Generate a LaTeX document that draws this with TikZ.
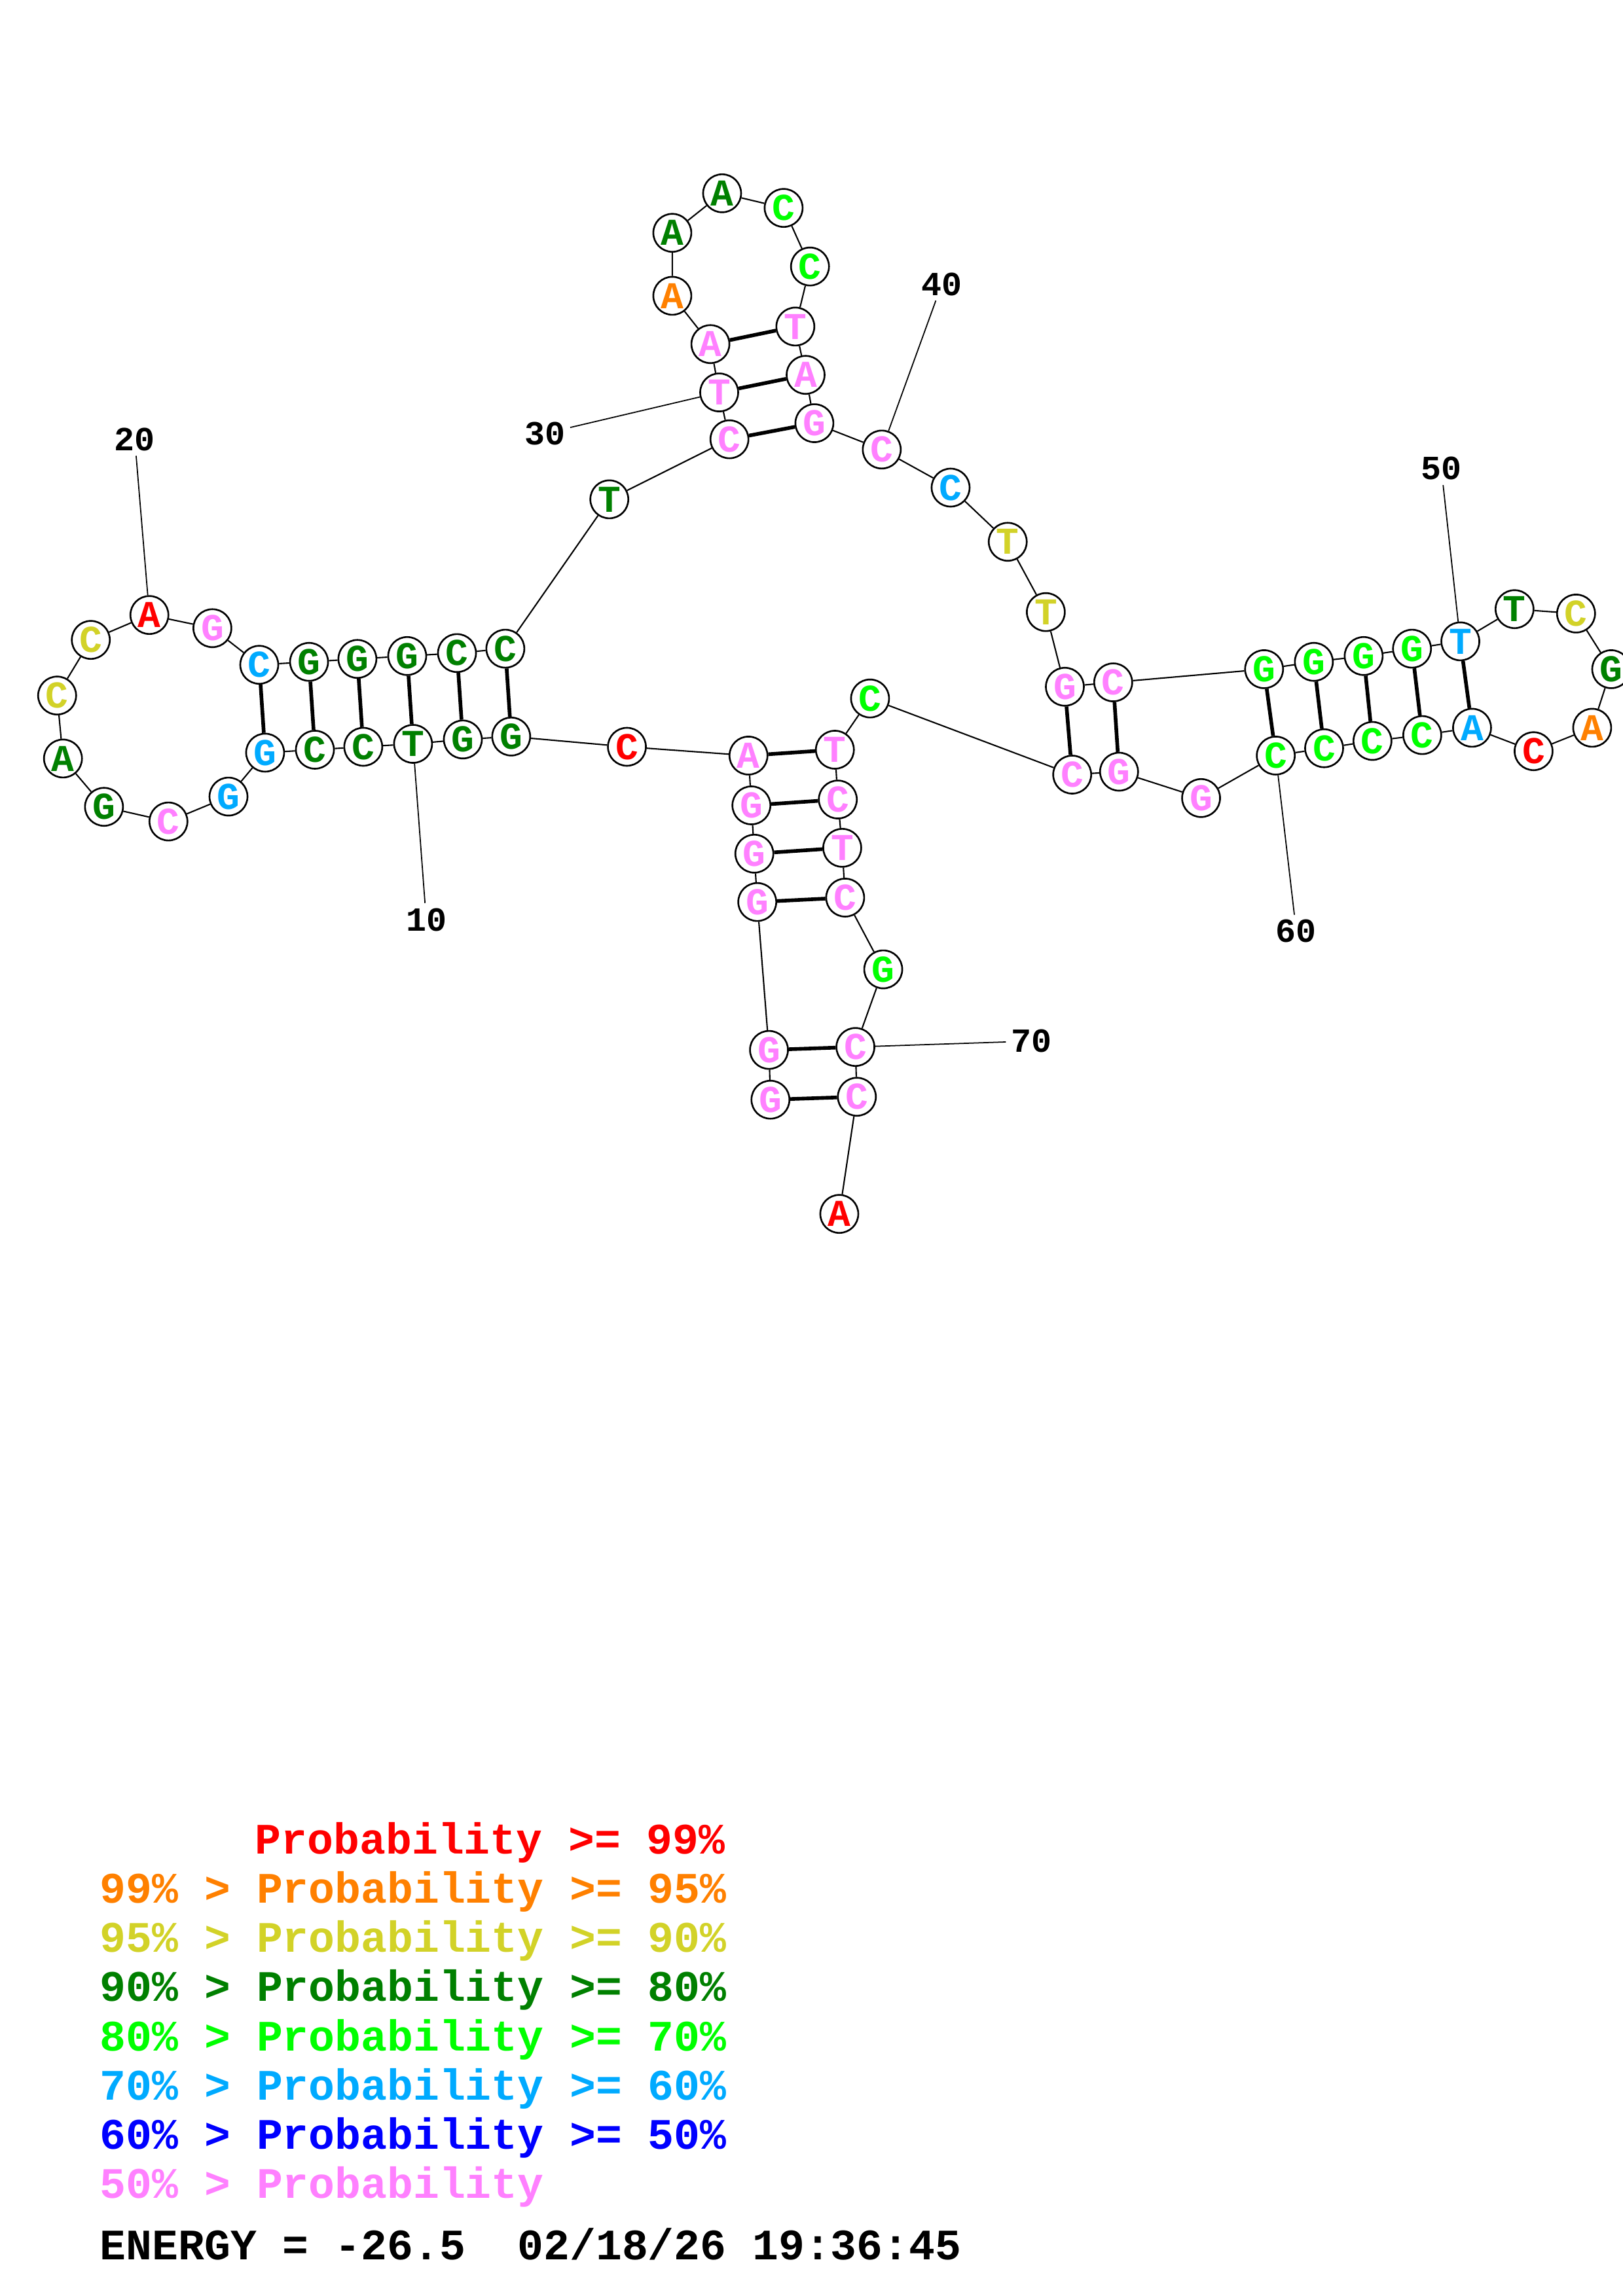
\documentclass[tikz,border=0pt]{standalone}
\usepackage{fontspec}
\setmonofont{Liberation Mono}
\usepackage{tikz}

\definecolor{pr99}{RGB}{255,0,0}
\definecolor{pr95}{RGB}{255,128,0}
\definecolor{pr90}{RGB}{210,210,40}
\definecolor{pr80}{RGB}{0,128,0}
\definecolor{pr70}{RGB}{0,255,0}
\definecolor{pr60}{RGB}{0,170,255}
\definecolor{pr50}{RGB}{0,0,255}
\definecolor{pr00}{RGB}{255,128,255}

\begin{document}
\begin{tikzpicture}[x=0.022374cm, y=-0.022374cm,
    nuc/.style={circle, draw, line width=0.75pt, fill=white, minimum size=0.58cm, inner sep=0pt,
      font=\ttfamily\bfseries\fontsize{16.5}{18}\selectfont},
    backbone/.style={line width=0.6pt},
    pair/.style={line width=1.6pt},
    numlab/.style={inner sep=2pt, font=\ttfamily\bfseries\fontsize{14.7}{16}\selectfont},
    tick/.style={line width=0.5pt},
    legend/.style={anchor=base west, inner sep=0pt, font=\ttfamily\bfseries\fontsize{18.9}{20}\selectfont}]
    \useasboundingbox (0,0) rectangle (1108,1568);

    % Bases
    \node (n1) [nuc, text=pr00] at (526,751) {G};
    \node (n2) [nuc, text=pr00] at (525,717) {G};
    \node (n3) [nuc, text=pr00] at (517,616) {G};
    \node (n4) [nuc, text=pr00] at (515,583) {G};
    \node (n5) [nuc, text=pr00] at (513,550) {G};
    \node (n6) [nuc, text=pr00] at (511,516) {A};
    \node (n7) [nuc, text=pr99] at (428,510) {C};
    \node (n8) [nuc, text=pr80] at (349,503) {G};
    \node (n9) [nuc, text=pr80] at (316,505) {G};
    \node (n10) [nuc, text=pr80] at (282,508) {T};
    \node (n11) [nuc, text=pr80] at (248,510) {C};
    \node (n12) [nuc, text=pr80] at (215,512) {C};
    \node (n13) [nuc, text=pr60] at (181,514) {G};
    \node (n14) [nuc, text=pr60] at (156,544) {G};
    \node (n15) [nuc, text=pr00] at (115,561) {C};
    \node (n16) [nuc, text=pr80] at (71,551) {G};
    \node (n17) [nuc, text=pr80] at (43,518) {A};
    \node (n18) [nuc, text=pr90] at (39,475) {C};
    \node (n19) [nuc, text=pr90] at (62,437) {C};
    \node (n20) [nuc, text=pr99] at (102,420) {A};
    \node (n21) [nuc, text=pr00] at (145,429) {G};
    \node (n22) [nuc, text=pr60] at (177,454) {C};
    \node (n23) [nuc, text=pr80] at (211,452) {G};
    \node (n24) [nuc, text=pr80] at (244,450) {G};
    \node (n25) [nuc, text=pr80] at (278,448) {G};
    \node (n26) [nuc, text=pr80] at (312,446) {C};
    \node (n27) [nuc, text=pr80] at (345,443) {C};
    \node (n28) [nuc, text=pr80] at (416,341) {T};
    \node (n29) [nuc, text=pr00] at (498,300) {C};
    \node (n30) [nuc, text=pr00] at (491,268) {T};
    \node (n31) [nuc, text=pr00] at (485,235) {A};
    \node (n32) [nuc, text=pr95] at (459,202) {A};
    \node (n33) [nuc, text=pr80] at (459,159) {A};
    \node (n34) [nuc, text=pr80] at (493,132) {A};
    \node (n35) [nuc, text=pr70] at (535,142) {C};
    \node (n36) [nuc, text=pr70] at (553,182) {C};
    \node (n37) [nuc, text=pr00] at (543,223) {T};
    \node (n38) [nuc, text=pr00] at (550,256) {A};
    \node (n39) [nuc, text=pr00] at (556,289) {G};
    \node (n40) [nuc, text=pr00] at (602,307) {C};
    \node (n41) [nuc, text=pr60] at (649,333) {C};
    \node (n42) [nuc, text=pr90] at (688,370) {T};
    \node (n43) [nuc, text=pr90] at (714,418) {T};
    \node (n44) [nuc, text=pr00] at (727,469) {G};
    \node (n45) [nuc, text=pr00] at (760,466) {C};
    \node (n46) [nuc, text=pr70] at (863,457) {G};
    \node (n47) [nuc, text=pr70] at (897,452) {G};
    \node (n48) [nuc, text=pr70] at (931,448) {G};
    \node (n49) [nuc, text=pr70] at (964,443) {G};
    \node (n50) [nuc, text=pr60] at (997,438) {T};
    \node (n51) [nuc, text=pr80] at (1034,416) {T};
    \node (n52) [nuc, text=pr90] at (1076,419) {C};
    \node (n53) [nuc, text=pr80] at (1100,457) {G};
    \node (n54) [nuc, text=pr95] at (1087,497) {A};
    \node (n55) [nuc, text=pr99] at (1047,513) {C};
    \node (n56) [nuc, text=pr60] at (1005,497) {A};
    \node (n57) [nuc, text=pr70] at (971,502) {C};
    \node (n58) [nuc, text=pr70] at (937,506) {C};
    \node (n59) [nuc, text=pr70] at (904,511) {C};
    \node (n60) [nuc, text=pr70] at (871,516) {C};
    \node (n61) [nuc, text=pr00] at (820,545) {G};
    \node (n62) [nuc, text=pr00] at (764,527) {G};
    \node (n63) [nuc, text=pr00] at (732,529) {C};
    \node (n64) [nuc, text=pr70] at (594,477) {C};
    \node (n65) [nuc, text=pr00] at (570,512) {T};
    \node (n66) [nuc, text=pr00] at (572,546) {C};
    \node (n67) [nuc, text=pr00] at (575,579) {T};
    \node (n68) [nuc, text=pr00] at (577,613) {C};
    \node (n69) [nuc, text=pr70] at (603,662) {G};
    \node (n70) [nuc, text=pr00] at (584,715) {C};
    \node (n71) [nuc, text=pr00] at (585,749) {C};
    \node (n72) [nuc, text=pr99] at (573,829) {A};

    % Backbone
    \draw[backbone] (n1) -- (n2) -- (n3) -- (n4) -- (n5) -- (n6) -- (n7) -- (n8) -- (n9) -- (n10);
    \draw[backbone] (n10) -- (n11) -- (n12) -- (n13) -- (n14) -- (n15) -- (n16) -- (n17) -- (n18) -- (n19) -- (n20);
    \draw[backbone] (n20) -- (n21) -- (n22) -- (n23) -- (n24) -- (n25) -- (n26) -- (n27) -- (n28) -- (n29) -- (n30);
    \draw[backbone] (n30) -- (n31) -- (n32) -- (n33) -- (n34) -- (n35) -- (n36) -- (n37) -- (n38) -- (n39) -- (n40);
    \draw[backbone] (n40) -- (n41) -- (n42) -- (n43) -- (n44) -- (n45) -- (n46) -- (n47) -- (n48) -- (n49) -- (n50);
    \draw[backbone] (n50) -- (n51) -- (n52) -- (n53) -- (n54) -- (n55) -- (n56) -- (n57) -- (n58) -- (n59) -- (n60);
    \draw[backbone] (n60) -- (n61) -- (n62) -- (n63) -- (n64) -- (n65) -- (n66) -- (n67) -- (n68) -- (n69) -- (n70);
    \draw[backbone] (n70) -- (n71) -- (n72);

    % Base pairs
    \draw[pair] (n1) -- (n71);
    \draw[pair] (n2) -- (n70);
    \draw[pair] (n3) -- (n68);
    \draw[pair] (n4) -- (n67);
    \draw[pair] (n5) -- (n66);
    \draw[pair] (n6) -- (n65);
    \draw[pair] (n8) -- (n27);
    \draw[pair] (n9) -- (n26);
    \draw[pair] (n10) -- (n25);
    \draw[pair] (n11) -- (n24);
    \draw[pair] (n12) -- (n23);
    \draw[pair] (n13) -- (n22);
    \draw[pair] (n29) -- (n39);
    \draw[pair] (n30) -- (n38);
    \draw[pair] (n31) -- (n37);
    \draw[pair] (n44) -- (n63);
    \draw[pair] (n45) -- (n62);
    \draw[pair] (n46) -- (n60);
    \draw[pair] (n47) -- (n59);
    \draw[pair] (n48) -- (n58);
    \draw[pair] (n49) -- (n57);
    \draw[pair] (n50) -- (n56);

    % Position numbers
    \node (l10) [numlab] at (291,628) {10};
    \node (l20) [numlab] at (92,300) {20};
    \node (l30) [numlab] at (372,296) {30};
    \node (l40) [numlab] at (643,194) {40};
    \node (l50) [numlab] at (984,320) {50};
    \node (l60) [numlab] at (885,636) {60};
    \node (l70) [numlab] at (704,711) {70};
    \draw[tick] (n10) -- (l10);
    \draw[tick] (n20) -- (l20);
    \draw[tick] (n30) -- (l30);
    \draw[tick] (n40) -- (l40);
    \draw[tick] (n50) -- (l50);
    \draw[tick] (n60) -- (l60);
    \draw[tick] (n70) -- (l70);

    % Legend
    \node (key99) [legend, text=pr99] at (174,1266) {Probability >= 99\%};
    \node (key95) [legend, text=pr95] at (68,1299.6) {99\% > Probability >= 95\%};
    \node (key90) [legend, text=pr90] at (68,1333.2) {95\% > Probability >= 90\%};
    \node (key80) [legend, text=pr80] at (68,1366.8) {90\% > Probability >= 80\%};
    \node (key70) [legend, text=pr70] at (68,1400.4) {80\% > Probability >= 70\%};
    \node (key60) [legend, text=pr60] at (68,1434) {70\% > Probability >= 60\%};
    \node (key50) [legend, text=pr50] at (68,1467.6) {60\% > Probability >= 50\%};
    \node (key00) [legend, text=pr00] at (68,1501.2) {50\% > Probability};
    \node (energy) [legend] at (68,1543) {ENERGY = -26.5\ \ 02/18/26 19:36:45};
\end{tikzpicture}
\end{document}
